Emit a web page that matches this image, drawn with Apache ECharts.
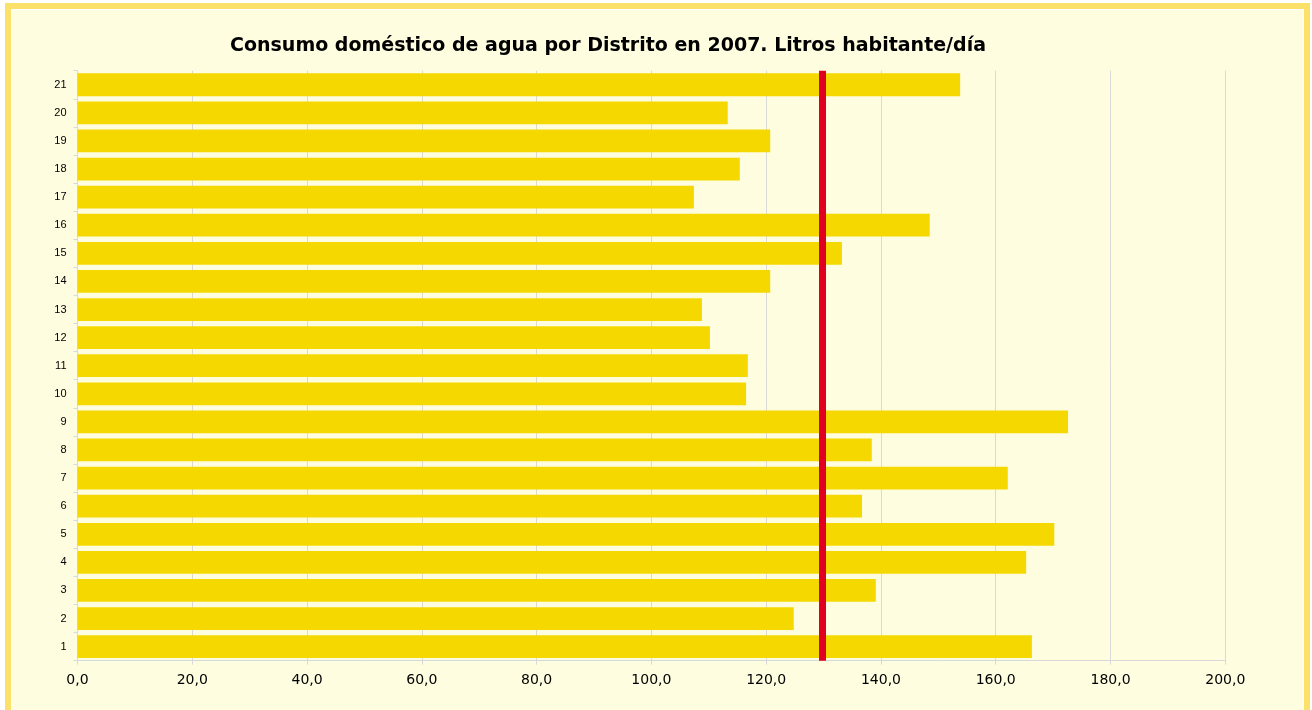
<!DOCTYPE html>
<html lang="es">
<head>
  <meta charset="UTF-8">
  <title>Consumo doméstico de agua</title>
  <script src="https://cdn.jsdelivr.net/npm/echarts@6/dist/echarts.min.js"></script>
  <style>
    html, body {
      margin: 0;
      padding: 0;
      background: #ffffff;
    }

    .frame {
      position: absolute;
      left: 5px;
      top: 3px;
      width: 1293px;
      height: 720px;
      border: 6px solid #fbe06a;
      background: #fefde0;
      box-shadow: inset 0 0 0 1px #ffffff;
    }

    #main {
      position: absolute;
      left: 0;
      top: 0;
      width: 1312px;
      height: 710px;
    }
  </style>
</head>
<body>
<div class="frame"></div>
<div id="main"></div>
<script>
  // distritos 1..21 (de abajo arriba)
  var distritos = ['1', '2', '3', '4', '5', '6', '7', '8', '9', '10', '11',
    '12', '13', '14', '15', '16', '17', '18', '19', '20', '21'];
  // litros por habitante y día
  var consumo = [166.3, 124.8, 139.1, 165.3, 170.2, 136.7, 162.1, 138.4, 172.6, 116.5, 116.8,
    110.2, 108.8, 120.7, 133.2, 148.5, 107.4, 115.4, 120.7, 113.3, 153.8];
  // media de la ciudad (línea roja)
  var media = 129.8;
  var ejeX = [0, 20, 40, 60, 80, 100, 120, 140, 160, 180, 200];

  var myChart = echarts.init(document.getElementById('main'));

  function coma(v) {
    return v.toFixed(1).replace('.', ',');
  }

  var option = {
    animation: false,
    backgroundColor: 'transparent',
    title: {
      text: 'Consumo doméstico de agua por Distrito en 2007. Litros habitante/día',
      left: 603,
      top: 32,
      textAlign: 'center',
      textStyle: {
        fontFamily: '"DejaVu Sans", Arial, sans-serif',
        fontWeight: 'bold',
        fontSize: 19,
        color: '#000000'
      }
    },
    grid: {
      left: 77.5,
      right: 86.7,
      top: 70.7,
      bottom: 49.3,
      containLabel: false
    },
    xAxis: {
      type: 'value',
      min: ejeX[0],
      max: ejeX[ejeX.length - 1],
      interval: ejeX[1] - ejeX[0],
      axisLine: {show: true, lineStyle: {color: '#d9d9d9', width: 1}},
      axisTick: {show: true, length: 4, lineStyle: {color: '#d9d9d9'}},
      splitLine: {show: true, lineStyle: {color: '#d9d9d9', width: 1}},
      axisLabel: {
        formatter: coma,
        margin: 13,
        fontFamily: '"DejaVu Sans", Arial, sans-serif',
        fontSize: 14,
        color: '#000000'
      }
    },
    yAxis: {
      type: 'category',
      data: distritos,
      axisLine: {show: true, lineStyle: {color: '#d9d9d9', width: 1}},
      axisTick: {show: true, length: 4, alignWithLabel: false, lineStyle: {color: '#d9d9d9'}},
      splitLine: {show: false},
      axisLabel: {
        margin: 11,
        fontFamily: 'Arial, "Liberation Sans", sans-serif',
        fontSize: 11,
        color: '#000000'
      }
    },
    series: [{
      type: 'bar',
      data: consumo,
      barCategoryGap: '19%',
      itemStyle: {color: '#f5d800'},
      markLine: {
        silent: true,
        symbol: 'none',
        label: {show: false},
        lineStyle: {color: '#e0001f', width: 7, type: 'solid'},
        data: [{xAxis: media}]
      }
    }]
  };

  myChart.setOption(option);
</script>
</body>
</html>
